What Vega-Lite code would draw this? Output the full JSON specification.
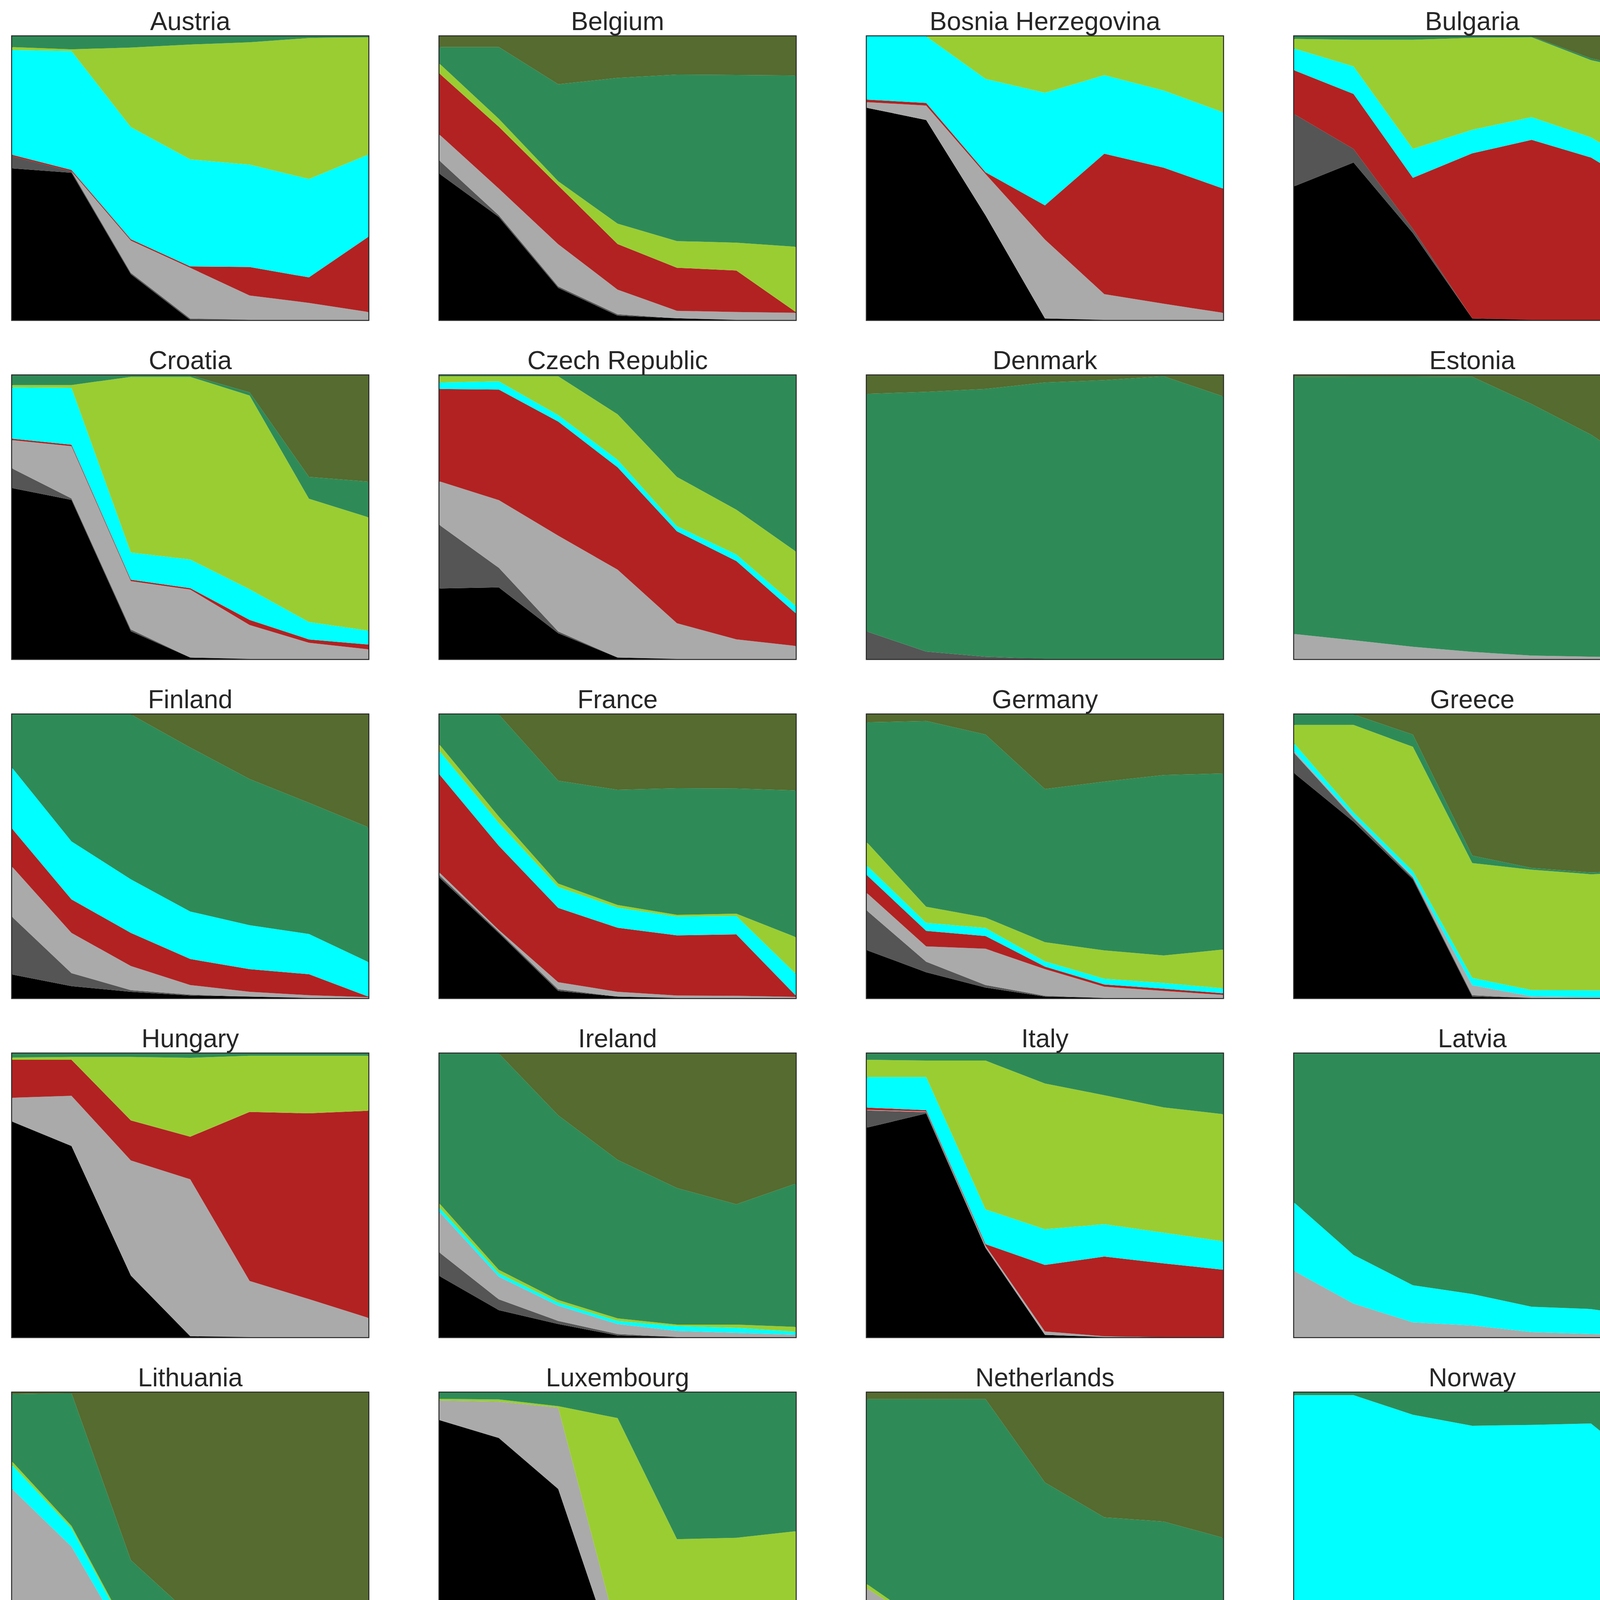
{
  "$schema": "https://vega.github.io/schema/vega-lite/v6.json",
  "padding": {"left": 28, "top": 21, "right": 10, "bottom": 10},
  "background": "white",
  "datasets": {
    "techs": [
      {"key": "lignite", "tech": "lignite", "o": 0},
      {"key": "coal", "tech": "coal", "o": 1},
      {"key": "gas", "tech": "gas", "o": 2},
      {"key": "nuclear", "tech": "nuclear", "o": 3},
      {"key": "hydro", "tech": "hydro", "o": 4},
      {"key": "solar", "tech": "solar PV", "o": 5},
      {"key": "onshore", "tech": "onshore wind", "o": 6},
      {"key": "offshore", "tech": "offshore wind", "o": 7}
    ],
    "mix": [
      {"country":"Austria","year":2020,"lignite":53.5,"coal":4.3,"gas":0,"nuclear":0.5,"hydro":37,"solar":1,"onshore":3.8,"offshore":0},
      {"country":"Austria","year":2025,"lignite":52,"coal":0.5,"gas":0,"nuclear":0.5,"hydro":42,"solar":0.6,"onshore":4.6,"offshore":0},
      {"country":"Austria","year":2030,"lignite":16.3,"coal":0.5,"gas":11.5,"nuclear":0.5,"hydro":40,"solar":28.4,"onshore":4,"offshore":0},
      {"country":"Austria","year":2035,"lignite":0,"coal":0.5,"gas":18,"nuclear":0.5,"hydro":38,"solar":40.8,"onshore":2.9,"offshore":0},
      {"country":"Austria","year":2040,"lignite":0,"coal":0,"gas":8.6,"nuclear":10,"hydro":36,"solar":43,"onshore":2.1,"offshore":0},
      {"country":"Austria","year":2045,"lignite":0,"coal":0,"gas":6,"nuclear":9,"hydro":34.7,"solar":49.7,"onshore":0.6,"offshore":0},
      {"country":"Austria","year":2050,"lignite":0,"coal":0,"gas":2.8,"nuclear":26.5,"hydro":29,"solar":41.4,"onshore":0.3,"offshore":0},
      {"country":"Belgium","year":2020,"lignite":51.5,"coal":4.6,"gas":9.2,"nuclear":21.5,"hydro":0,"solar":3.5,"onshore":5.8,"offshore":3.8},
      {"country":"Belgium","year":2025,"lignite":36.3,"coal":0.6,"gas":9.4,"nuclear":21.8,"hydro":0,"solar":2.8,"onshore":25.3,"offshore":3.8},
      {"country":"Belgium","year":2030,"lignite":11.3,"coal":0.5,"gas":14.9,"nuclear":20.7,"hydro":0,"solar":1.5,"onshore":34.2,"offshore":16.9},
      {"country":"Belgium","year":2035,"lignite":1.5,"coal":0.5,"gas":8.7,"nuclear":16.1,"hydro":0,"solar":7.2,"onshore":51.4,"offshore":14.7},
      {"country":"Belgium","year":2040,"lignite":0.6,"coal":0,"gas":2.6,"nuclear":15.2,"hydro":0,"solar":9.4,"onshore":58.7,"offshore":13.5},
      {"country":"Belgium","year":2045,"lignite":0,"coal":0,"gas":2.8,"nuclear":14.6,"hydro":0,"solar":9.8,"onshore":59,"offshore":13.6},
      {"country":"Belgium","year":2050,"lignite":0,"coal":0,"gas":2.5,"nuclear":0.3,"hydro":0,"solar":23,"onshore":60.4,"offshore":13.8},
      {"country":"Bosnia Herzegovina","year":2020,"lignite":74.8,"coal":0,"gas":2,"nuclear":0.9,"hydro":22.3,"solar":0,"onshore":0,"offshore":0},
      {"country":"Bosnia Herzegovina","year":2025,"lignite":70.5,"coal":0,"gas":5.1,"nuclear":0.9,"hydro":23.5,"solar":0,"onshore":0,"offshore":0},
      {"country":"Bosnia Herzegovina","year":2030,"lignite":36.8,"coal":0,"gas":14.6,"nuclear":0.6,"hydro":32.9,"solar":15,"onshore":0,"offshore":0},
      {"country":"Bosnia Herzegovina","year":2035,"lignite":0.5,"coal":0,"gas":27.7,"nuclear":12,"hydro":39.5,"solar":19.8,"onshore":0,"offshore":0},
      {"country":"Bosnia Herzegovina","year":2040,"lignite":0,"coal":0,"gas":9.1,"nuclear":49.5,"hydro":27.7,"solar":13.7,"onshore":0,"offshore":0},
      {"country":"Bosnia Herzegovina","year":2045,"lignite":0,"coal":0,"gas":5.7,"nuclear":48,"hydro":27.2,"solar":19.1,"onshore":0,"offshore":0},
      {"country":"Bosnia Herzegovina","year":2050,"lignite":0,"coal":0,"gas":2.5,"nuclear":43.8,"hydro":26.9,"solar":26.8,"onshore":0,"offshore":0},
      {"country":"Bulgaria","year":2020,"lignite":47.1,"coal":25.5,"gas":0,"nuclear":15.4,"hydro":7.7,"solar":3.4,"onshore":0.9,"offshore":0},
      {"country":"Bulgaria","year":2025,"lignite":55.5,"coal":4.8,"gas":0,"nuclear":19.4,"hydro":9.7,"solar":9.4,"onshore":1.2,"offshore":0},
      {"country":"Bulgaria","year":2030,"lignite":30.6,"coal":1.5,"gas":0,"nuclear":18,"hydro":10.2,"solar":38.5,"onshore":1.2,"offshore":0},
      {"country":"Bulgaria","year":2035,"lignite":0.5,"coal":0,"gas":0,"nuclear":58.3,"hydro":8.3,"solar":32.5,"onshore":0.5,"offshore":0},
      {"country":"Bulgaria","year":2040,"lignite":0,"coal":0,"gas":0,"nuclear":63.5,"hydro":8,"solar":28.2,"onshore":0.3,"offshore":0},
      {"country":"Bulgaria","year":2045,"lignite":0,"coal":0,"gas":0,"nuclear":57.2,"hydro":7.1,"solar":27.2,"onshore":0.6,"offshore":7.8},
      {"country":"Bulgaria","year":2050,"lignite":0,"coal":0,"gas":0,"nuclear":44.5,"hydro":7.4,"solar":35.2,"onshore":0.6,"offshore":12.3},
      {"country":"Croatia","year":2020,"lignite":60.2,"coal":6.9,"gas":10,"nuclear":0.5,"hydro":18.1,"solar":0.8,"onshore":3.4,"offshore":0},
      {"country":"Croatia","year":2025,"lignite":56,"coal":0.5,"gas":18.4,"nuclear":0.5,"hydro":20,"solar":1,"onshore":3.4,"offshore":0},
      {"country":"Croatia","year":2030,"lignite":9.7,"coal":0.6,"gas":16.9,"nuclear":0.5,"hydro":9.5,"solar":61.4,"onshore":0.5,"offshore":0},
      {"country":"Croatia","year":2035,"lignite":0.5,"coal":0,"gas":23.8,"nuclear":0.5,"hydro":10,"solar":64,"onshore":0.5,"offshore":0},
      {"country":"Croatia","year":2040,"lignite":0,"coal":0,"gas":12,"nuclear":1.8,"hydro":10.8,"solar":68.4,"onshore":1.1,"offshore":6},
      {"country":"Croatia","year":2045,"lignite":0,"coal":0,"gas":5.7,"nuclear":1.2,"hydro":6.1,"solar":43.5,"onshore":7.7,"offshore":35.8},
      {"country":"Croatia","year":2050,"lignite":0,"coal":0,"gas":3.4,"nuclear":1.7,"hydro":4.9,"solar":40,"onshore":12.6,"offshore":37.5},
      {"country":"Czech Republic","year":2020,"lignite":24.9,"coal":22.4,"gas":15.4,"nuclear":32.6,"hydro":2.3,"solar":2.2,"onshore":0.3,"offshore":0},
      {"country":"Czech Republic","year":2025,"lignite":25.2,"coal":6.9,"gas":23.8,"nuclear":38.9,"hydro":2.9,"solar":1.8,"onshore":0.3,"offshore":0},
      {"country":"Czech Republic","year":2030,"lignite":9.1,"coal":0.6,"gas":33.8,"nuclear":40.2,"hydro":2.3,"solar":13.7,"onshore":0.3,"offshore":0},
      {"country":"Czech Republic","year":2035,"lignite":0.5,"coal":0,"gas":31,"nuclear":36.1,"hydro":2.6,"solar":16.1,"onshore":13.7,"offshore":0},
      {"country":"Czech Republic","year":2040,"lignite":0,"coal":0,"gas":12.6,"nuclear":32.4,"hydro":1.8,"solar":17.4,"onshore":35.8,"offshore":0},
      {"country":"Czech Republic","year":2045,"lignite":0,"coal":0,"gas":6.9,"nuclear":27.6,"hydro":2.3,"solar":15.8,"onshore":47.3,"offshore":0},
      {"country":"Czech Republic","year":2050,"lignite":0,"coal":0,"gas":4.6,"nuclear":11.5,"hydro":2.6,"solar":19.2,"onshore":62,"offshore":0},
      {"country":"Denmark","year":2020,"lignite":0,"coal":9.7,"gas":0,"nuclear":0,"hydro":0,"solar":0,"onshore":83.6,"offshore":6.5},
      {"country":"Denmark","year":2025,"lignite":0,"coal":2.6,"gas":0,"nuclear":0,"hydro":0,"solar":0,"onshore":91.5,"offshore":5.8},
      {"country":"Denmark","year":2030,"lignite":0,"coal":0.8,"gas":0,"nuclear":0,"hydro":0,"solar":0,"onshore":94.5,"offshore":4.8},
      {"country":"Denmark","year":2035,"lignite":0,"coal":0,"gas":0,"nuclear":0,"hydro":0,"solar":0,"onshore":97.5,"offshore":2.5},
      {"country":"Denmark","year":2040,"lignite":0,"coal":0,"gas":0,"nuclear":0,"hydro":0,"solar":0,"onshore":98.3,"offshore":1.7},
      {"country":"Denmark","year":2045,"lignite":0,"coal":0,"gas":0,"nuclear":0,"hydro":0,"solar":0,"onshore":99.7,"offshore":0.3},
      {"country":"Denmark","year":2050,"lignite":0,"coal":0,"gas":0,"nuclear":0,"hydro":0,"solar":0,"onshore":92.6,"offshore":7.4},
      {"country":"Estonia","year":2020,"lignite":0,"coal":0,"gas":8.8,"nuclear":0,"hydro":0,"solar":0,"onshore":90.6,"offshore":0.5},
      {"country":"Estonia","year":2025,"lignite":0,"coal":0,"gas":6.6,"nuclear":0,"hydro":0,"solar":0,"onshore":93,"offshore":0.4},
      {"country":"Estonia","year":2030,"lignite":0,"coal":0,"gas":4.3,"nuclear":0,"hydro":0,"solar":0,"onshore":95.2,"offshore":0.4},
      {"country":"Estonia","year":2035,"lignite":0,"coal":0,"gas":2.5,"nuclear":0,"hydro":0,"solar":0,"onshore":97,"offshore":0.5},
      {"country":"Estonia","year":2040,"lignite":0,"coal":0,"gas":1.2,"nuclear":0,"hydro":0,"solar":0,"onshore":88.6,"offshore":10.1},
      {"country":"Estonia","year":2045,"lignite":0,"coal":0,"gas":0.8,"nuclear":0,"hydro":0,"solar":0,"onshore":78.3,"offshore":20.9},
      {"country":"Estonia","year":2050,"lignite":0,"coal":0,"gas":0.5,"nuclear":0,"hydro":0,"solar":0,"onshore":64.8,"offshore":34.7},
      {"country":"Finland","year":2020,"lignite":8.3,"coal":20.3,"gas":17.7,"nuclear":13.4,"hydro":21.5,"solar":0,"onshore":18.8,"offshore":0},
      {"country":"Finland","year":2025,"lignite":4.2,"coal":4.6,"gas":14.2,"nuclear":11.8,"hydro":20.5,"solar":0,"onshore":44.8,"offshore":0},
      {"country":"Finland","year":2030,"lignite":2.2,"coal":0.6,"gas":8.5,"nuclear":11.7,"hydro":18.9,"solar":0,"onshore":58.2,"offshore":0},
      {"country":"Finland","year":2035,"lignite":0.9,"coal":0.3,"gas":3.4,"nuclear":9.2,"hydro":16.8,"solar":0,"onshore":58,"offshore":11.7},
      {"country":"Finland","year":2040,"lignite":0.5,"coal":0,"gas":1.7,"nuclear":8,"hydro":15.5,"solar":0,"onshore":51.5,"offshore":22.8},
      {"country":"Finland","year":2045,"lignite":0,"coal":0,"gas":1,"nuclear":7.4,"hydro":14.2,"solar":0,"onshore":46.3,"offshore":31.2},
      {"country":"Finland","year":2050,"lignite":0,"coal":0,"gas":0.3,"nuclear":0.2,"hydro":12.2,"solar":0,"onshore":47.5,"offshore":39.8},
      {"country":"France","year":2020,"lignite":42.5,"coal":0.8,"gas":1,"nuclear":34.6,"hydro":8.3,"solar":2.3,"onshore":10.6,"offshore":0},
      {"country":"France","year":2025,"lignite":22.9,"coal":0.5,"gas":0.6,"nuclear":29.7,"hydro":8,"solar":2.3,"onshore":36,"offshore":0},
      {"country":"France","year":2030,"lignite":2.5,"coal":0.6,"gas":2.5,"nuclear":26.2,"hydro":7.4,"solar":1.2,"onshore":36.3,"offshore":23.4},
      {"country":"France","year":2035,"lignite":0.5,"coal":0,"gas":1.7,"nuclear":22.6,"hydro":7.1,"solar":0.9,"onshore":40.6,"offshore":26.6},
      {"country":"France","year":2040,"lignite":0,"coal":0,"gas":0.9,"nuclear":21.2,"hydro":6.6,"solar":0.6,"onshore":44.6,"offshore":26},
      {"country":"France","year":2045,"lignite":0,"coal":0,"gas":0.8,"nuclear":21.7,"hydro":6.5,"solar":0.8,"onshore":44.2,"offshore":26.2},
      {"country":"France","year":2050,"lignite":0,"coal":0,"gas":0.4,"nuclear":0.5,"hydro":7.7,"solar":12.9,"onshore":51.7,"offshore":26.8},
      {"country":"Germany","year":2020,"lignite":16.9,"coal":14,"gas":6.2,"nuclear":6.3,"hydro":3.4,"solar":8.2,"onshore":42.3,"offshore":2.8},
      {"country":"Germany","year":2025,"lignite":9.1,"coal":3.7,"gas":5.4,"nuclear":5.5,"hydro":2.8,"solar":5.7,"onshore":65.5,"offshore":2.3},
      {"country":"Germany","year":2030,"lignite":3.7,"coal":0.9,"gas":12.8,"nuclear":4.5,"hydro":2.8,"solar":3.7,"onshore":64.6,"offshore":7.1},
      {"country":"Germany","year":2035,"lignite":0.5,"coal":0.3,"gas":9.4,"nuclear":0.9,"hydro":1.8,"solar":6.8,"onshore":54,"offshore":26.3},
      {"country":"Germany","year":2040,"lignite":0,"coal":0,"gas":4,"nuclear":0.8,"hydro":2,"solar":10,"onshore":59.5,"offshore":23.7},
      {"country":"Germany","year":2045,"lignite":0,"coal":0,"gas":2.5,"nuclear":0.8,"hydro":2,"solar":9.7,"onshore":63.6,"offshore":21.4},
      {"country":"Germany","year":2050,"lignite":0,"coal":0,"gas":1.1,"nuclear":0.6,"hydro":1.7,"solar":13.7,"onshore":62.1,"offshore":20.8},
      {"country":"Greece","year":2020,"lignite":79.4,"coal":7.1,"gas":0.6,"nuclear":0,"hydro":2.8,"solar":6.5,"onshore":3.7,"offshore":0},
      {"country":"Greece","year":2025,"lignite":62.2,"coal":1.2,"gas":0.6,"nuclear":0,"hydro":1.5,"solar":30.8,"onshore":3.7,"offshore":0},
      {"country":"Greece","year":2030,"lignite":41.8,"coal":0.6,"gas":0.5,"nuclear":0,"hydro":1.8,"solar":43.8,"onshore":4.3,"offshore":7.1},
      {"country":"Greece","year":2035,"lignite":0.5,"coal":0.5,"gas":3.5,"nuclear":0,"hydro":2.6,"solar":40.5,"onshore":2.6,"offshore":49.8},
      {"country":"Greece","year":2040,"lignite":0,"coal":0,"gas":0.6,"nuclear":0,"hydro":2.2,"solar":42.5,"onshore":0.6,"offshore":54.2},
      {"country":"Greece","year":2045,"lignite":0,"coal":0,"gas":0.3,"nuclear":0,"hydro":2.4,"solar":40.9,"onshore":0.6,"offshore":55.7},
      {"country":"Greece","year":2050,"lignite":0,"coal":0,"gas":0.3,"nuclear":0,"hydro":2.2,"solar":42,"onshore":0.8,"offshore":54.8},
      {"country":"Hungary","year":2020,"lignite":76,"coal":0,"gas":8.4,"nuclear":13.4,"hydro":0,"solar":0.8,"onshore":1.4,"offshore":0},
      {"country":"Hungary","year":2025,"lignite":67.4,"coal":0,"gas":17.7,"nuclear":12.7,"hydro":0,"solar":1,"onshore":1.2,"offshore":0},
      {"country":"Hungary","year":2030,"lignite":21.7,"coal":0,"gas":40.6,"nuclear":14.1,"hydro":0,"solar":22.4,"onshore":1.2,"offshore":0},
      {"country":"Hungary","year":2035,"lignite":0.3,"coal":0,"gas":55.3,"nuclear":15,"hydro":0,"solar":27.8,"onshore":1.5,"offshore":0},
      {"country":"Hungary","year":2040,"lignite":0,"coal":0,"gas":19.8,"nuclear":59.6,"hydro":0,"solar":19.8,"onshore":0.8,"offshore":0},
      {"country":"Hungary","year":2045,"lignite":0,"coal":0,"gas":13.4,"nuclear":65.6,"hydro":0,"solar":20.3,"onshore":0.8,"offshore":0},
      {"country":"Hungary","year":2050,"lignite":0,"coal":0,"gas":6.8,"nuclear":73.1,"hydro":0,"solar":19.4,"onshore":0.8,"offshore":0},
      {"country":"Ireland","year":2020,"lignite":21.5,"coal":8.3,"gas":14.3,"nuclear":0,"hydro":1.5,"solar":1.5,"onshore":52.8,"offshore":0},
      {"country":"Ireland","year":2025,"lignite":9.5,"coal":3.8,"gas":8,"nuclear":0,"hydro":1.2,"solar":1.2,"onshore":76.2,"offshore":0},
      {"country":"Ireland","year":2030,"lignite":4.6,"coal":1.1,"gas":5.4,"nuclear":0,"hydro":1.1,"solar":0.9,"onshore":65.1,"offshore":21.8},
      {"country":"Ireland","year":2035,"lignite":0.6,"coal":0.5,"gas":3.5,"nuclear":0,"hydro":1.1,"solar":0.9,"onshore":55.9,"offshore":37.5},
      {"country":"Ireland","year":2040,"lignite":0,"coal":0,"gas":2.2,"nuclear":0,"hydro":1.7,"solar":0.5,"onshore":48.2,"offshore":47.5},
      {"country":"Ireland","year":2045,"lignite":0,"coal":0,"gas":1.5,"nuclear":0,"hydro":1.8,"solar":1.1,"onshore":42.4,"offshore":53.1},
      {"country":"Ireland","year":2050,"lignite":0,"coal":0,"gas":0.8,"nuclear":0,"hydro":1.1,"solar":1.7,"onshore":50.5,"offshore":45.9},
      {"country":"Italy","year":2020,"lignite":74,"coal":6.1,"gas":0.2,"nuclear":0.8,"hydro":10.8,"solar":6.1,"onshore":2.2,"offshore":0},
      {"country":"Italy","year":2025,"lignite":79,"coal":0.5,"gas":0.2,"nuclear":0.5,"hydro":11.7,"solar":5.8,"onshore":2.5,"offshore":0},
      {"country":"Italy","year":2030,"lignite":31.5,"coal":0.3,"gas":0.6,"nuclear":0.5,"hydro":12.3,"solar":52.7,"onshore":2.5,"offshore":0},
      {"country":"Italy","year":2035,"lignite":0.8,"coal":0,"gas":1.2,"nuclear":23.5,"hydro":12.6,"solar":51.5,"onshore":10.6,"offshore":0},
      {"country":"Italy","year":2040,"lignite":0,"coal":0,"gas":0.3,"nuclear":28.1,"hydro":11.4,"solar":45.5,"onshore":14.7,"offshore":0},
      {"country":"Italy","year":2045,"lignite":0,"coal":0,"gas":0,"nuclear":26,"hydro":10.8,"solar":44.2,"onshore":19,"offshore":0},
      {"country":"Italy","year":2050,"lignite":0,"coal":0,"gas":0,"nuclear":23.8,"hydro":10,"solar":44.9,"onshore":21.4,"offshore":0},
      {"country":"Latvia","year":2020,"lignite":0,"coal":0,"gas":23.3,"nuclear":0,"hydro":24.1,"solar":0,"onshore":52.5,"offshore":0},
      {"country":"Latvia","year":2025,"lignite":0,"coal":0,"gas":11.8,"nuclear":0,"hydro":17.2,"solar":0,"onshore":71,"offshore":0},
      {"country":"Latvia","year":2030,"lignite":0,"coal":0,"gas":5.2,"nuclear":0,"hydro":13.1,"solar":0,"onshore":81.7,"offshore":0},
      {"country":"Latvia","year":2035,"lignite":0,"coal":0,"gas":4.1,"nuclear":0,"hydro":11.1,"solar":0,"onshore":84.8,"offshore":0},
      {"country":"Latvia","year":2040,"lignite":0,"coal":0,"gas":1.8,"nuclear":0,"hydro":8.9,"solar":0,"onshore":89.3,"offshore":0},
      {"country":"Latvia","year":2045,"lignite":0,"coal":0,"gas":1.1,"nuclear":0,"hydro":8.8,"solar":0,"onshore":90.1,"offshore":0},
      {"country":"Latvia","year":2050,"lignite":0,"coal":0,"gas":0.6,"nuclear":0,"hydro":6.3,"solar":0,"onshore":93.1,"offshore":0},
      {"country":"Lithuania","year":2020,"lignite":0,"coal":0,"gas":66,"nuclear":0,"hydro":8.5,"solar":1.2,"onshore":23.7,"offshore":0.6},
      {"country":"Lithuania","year":2025,"lignite":0,"coal":0,"gas":45.7,"nuclear":0,"hydro":6.5,"solar":0.8,"onshore":46.8,"offshore":0.2},
      {"country":"Lithuania","year":2030,"lignite":0,"coal":0,"gas":9.8,"nuclear":0,"hydro":3.4,"solar":0.9,"onshore":26.8,"offshore":59.1},
      {"country":"Lithuania","year":2035,"lignite":0,"coal":0,"gas":4,"nuclear":0,"hydro":1.7,"solar":0.6,"onshore":15.5,"offshore":78.2},
      {"country":"Lithuania","year":2040,"lignite":0,"coal":0,"gas":1.8,"nuclear":0,"hydro":1.2,"solar":0.5,"onshore":12,"offshore":84.5},
      {"country":"Lithuania","year":2045,"lignite":0,"coal":0,"gas":1.5,"nuclear":0,"hydro":1.1,"solar":0.5,"onshore":12.2,"offshore":84.7},
      {"country":"Lithuania","year":2050,"lignite":0,"coal":0,"gas":1.2,"nuclear":0,"hydro":1,"solar":0.6,"onshore":16.8,"offshore":80.4},
      {"country":"Luxembourg","year":2020,"lignite":90.3,"coal":0,"gas":6.9,"nuclear":0,"hydro":0,"solar":0.6,"onshore":2.2,"offshore":0},
      {"country":"Luxembourg","year":2025,"lignite":84,"coal":0,"gas":12.8,"nuclear":0,"hydro":0,"solar":0.8,"onshore":2.4,"offshore":0},
      {"country":"Luxembourg","year":2030,"lignite":66,"coal":0,"gas":28.7,"nuclear":0,"hydro":0,"solar":0.5,"onshore":4.8,"offshore":0},
      {"country":"Luxembourg","year":2035,"lignite":4.2,"coal":0,"gas":10.8,"nuclear":0,"hydro":0,"solar":76,"onshore":9,"offshore":0},
      {"country":"Luxembourg","year":2040,"lignite":0.8,"coal":0,"gas":2.9,"nuclear":0,"hydro":0,"solar":44.6,"onshore":51.7,"offshore":0},
      {"country":"Luxembourg","year":2045,"lignite":0.5,"coal":0,"gas":2,"nuclear":0,"hydro":0,"solar":46.3,"onshore":51.2,"offshore":0},
      {"country":"Luxembourg","year":2050,"lignite":0.3,"coal":0,"gas":1.4,"nuclear":0,"hydro":0,"solar":49.4,"onshore":48.9,"offshore":0},
      {"country":"Netherlands","year":2020,"lignite":4.8,"coal":19.4,"gas":6.8,"nuclear":0,"hydro":0,"solar":1.5,"onshore":65.2,"offshore":2.3},
      {"country":"Netherlands","year":2025,"lignite":3.7,"coal":8.9,"gas":4.9,"nuclear":0,"hydro":0,"solar":0.5,"onshore":79.7,"offshore":2.3},
      {"country":"Netherlands","year":2030,"lignite":2.6,"coal":0.5,"gas":12.6,"nuclear":0,"hydro":0,"solar":0.8,"onshore":81.2,"offshore":2.3},
      {"country":"Netherlands","year":2035,"lignite":0.5,"coal":0,"gas":6.2,"nuclear":0,"hydro":0,"solar":4.3,"onshore":57.3,"offshore":31.7},
      {"country":"Netherlands","year":2040,"lignite":0,"coal":0,"gas":1.8,"nuclear":0,"hydro":0,"solar":5.1,"onshore":49.1,"offshore":44},
      {"country":"Netherlands","year":2045,"lignite":0,"coal":0,"gas":1.2,"nuclear":0,"hydro":0,"solar":5.4,"onshore":47.9,"offshore":45.5},
      {"country":"Netherlands","year":2050,"lignite":0,"coal":0,"gas":0.8,"nuclear":0,"hydro":0,"solar":6.6,"onshore":41.4,"offshore":51.2},
      {"country":"Norway","year":2020,"lignite":0,"coal":0,"gas":0,"nuclear":0,"hydro":99.1,"solar":0,"onshore":0.9,"offshore":0},
      {"country":"Norway","year":2025,"lignite":0,"coal":0,"gas":0,"nuclear":0,"hydro":99.1,"solar":0,"onshore":0.9,"offshore":0},
      {"country":"Norway","year":2030,"lignite":0,"coal":0,"gas":0,"nuclear":0,"hydro":92.2,"solar":0,"onshore":7.8,"offshore":0},
      {"country":"Norway","year":2035,"lignite":0,"coal":0,"gas":0,"nuclear":0,"hydro":88.3,"solar":0,"onshore":11.7,"offshore":0},
      {"country":"Norway","year":2040,"lignite":0,"coal":0,"gas":0,"nuclear":0,"hydro":88.6,"solar":0,"onshore":11.4,"offshore":0},
      {"country":"Norway","year":2045,"lignite":0,"coal":0,"gas":0,"nuclear":0,"hydro":89.1,"solar":0,"onshore":10.9,"offshore":0},
      {"country":"Norway","year":2050,"lignite":0,"coal":0,"gas":0,"nuclear":0,"hydro":72.2,"solar":0,"onshore":27.8,"offshore":0},
      {"country":"Poland","year":2020,"lignite":23.7,"coal":43,"gas":25,"nuclear":0,"hydro":0.4,"solar":0.6,"onshore":6.9,"offshore":0.4},
      {"country":"Poland","year":2025,"lignite":18.4,"coal":12.1,"gas":27.3,"nuclear":0,"hydro":0.4,"solar":0.8,"onshore":32.4,"offshore":8.6},
      {"country":"Poland","year":2030,"lignite":6.5,"coal":0.8,"gas":16.9,"nuclear":0,"hydro":0.3,"solar":0.6,"onshore":45.9,"offshore":29},
      {"country":"Poland","year":2035,"lignite":0.6,"coal":0.5,"gas":8.9,"nuclear":0,"hydro":0.6,"solar":0.5,"onshore":67.1,"offshore":21.8},
      {"country":"Poland","year":2040,"lignite":0,"coal":0,"gas":3.7,"nuclear":0,"hydro":0.6,"solar":1.7,"onshore":75.7,"offshore":18.3},
      {"country":"Poland","year":2045,"lignite":0,"coal":0,"gas":2.2,"nuclear":0,"hydro":0.8,"solar":1.5,"onshore":78,"offshore":17.5},
      {"country":"Poland","year":2050,"lignite":0,"coal":0,"gas":1.5,"nuclear":0,"hydro":0.9,"solar":1,"onshore":80.3,"offshore":16.3},
      {"country":"Portugal","year":2020,"lignite":40.2,"coal":11.8,"gas":0.5,"nuclear":0,"hydro":29.2,"solar":2,"onshore":16.3,"offshore":0},
      {"country":"Portugal","year":2025,"lignite":28,"coal":0.5,"gas":0.4,"nuclear":0,"hydro":29.6,"solar":24.5,"onshore":17,"offshore":0},
      {"country":"Portugal","year":2030,"lignite":15.2,"coal":0.8,"gas":0.5,"nuclear":0,"hydro":26.6,"solar":41.4,"onshore":15.5,"offshore":0},
      {"country":"Portugal","year":2035,"lignite":0.3,"coal":0.3,"gas":5.1,"nuclear":0,"hydro":21.5,"solar":31.1,"onshore":11.4,"offshore":30.3},
      {"country":"Portugal","year":2040,"lignite":0,"coal":0,"gas":0.3,"nuclear":0,"hydro":23.8,"solar":35.3,"onshore":4.3,"offshore":36.3},
      {"country":"Portugal","year":2045,"lignite":0,"coal":0,"gas":0,"nuclear":0,"hydro":24.1,"solar":39.2,"onshore":0.9,"offshore":35.8},
      {"country":"Portugal","year":2050,"lignite":0,"coal":0,"gas":0,"nuclear":0,"hydro":24.1,"solar":39.7,"onshore":0.9,"offshore":35.3},
      {"country":"Romania","year":2020,"lignite":44.9,"coal":7.4,"gas":14.4,"nuclear":6.3,"hydro":19.8,"solar":2.5,"onshore":4.5,"offshore":0.2},
      {"country":"Romania","year":2025,"lignite":44.4,"coal":0.9,"gas":20.3,"nuclear":6.6,"hydro":20.6,"solar":2.3,"onshore":4.6,"offshore":0.3},
      {"country":"Romania","year":2030,"lignite":10.3,"coal":0.8,"gas":23,"nuclear":5.7,"hydro":17.4,"solar":8.8,"onshore":5.1,"offshore":28.9},
      {"country":"Romania","year":2035,"lignite":0.3,"coal":0,"gas":21,"nuclear":3.5,"hydro":17.4,"solar":7.7,"onshore":3.4,"offshore":46.7},
      {"country":"Romania","year":2040,"lignite":0,"coal":0,"gas":11.1,"nuclear":5.1,"hydro":17.7,"solar":10,"onshore":3.1,"offshore":53},
      {"country":"Romania","year":2045,"lignite":0,"coal":0,"gas":7.2,"nuclear":9.5,"hydro":17.2,"solar":13.7,"onshore":1.1,"offshore":51.3},
      {"country":"Romania","year":2050,"lignite":0,"coal":0,"gas":3.1,"nuclear":16.7,"hydro":16.1,"solar":14.7,"onshore":1.1,"offshore":48.3},
      {"country":"Serbia","year":2020,"lignite":77.4,"coal":0,"gas":7.8,"nuclear":0.8,"hydro":14,"solar":0,"onshore":0,"offshore":0},
      {"country":"Serbia","year":2025,"lignite":75.6,"coal":0,"gas":9.5,"nuclear":0.8,"hydro":14.1,"solar":0,"onshore":0,"offshore":0},
      {"country":"Serbia","year":2030,"lignite":32.9,"coal":0,"gas":18.9,"nuclear":0.5,"hydro":18,"solar":29.7,"onshore":0,"offshore":0},
      {"country":"Serbia","year":2035,"lignite":0.3,"coal":0,"gas":24.6,"nuclear":25,"hydro":18.4,"solar":31.7,"onshore":0,"offshore":0},
      {"country":"Serbia","year":2040,"lignite":0,"coal":0,"gas":10.6,"nuclear":48.8,"hydro":15.4,"solar":25.2,"onshore":0,"offshore":0},
      {"country":"Serbia","year":2045,"lignite":0,"coal":0,"gas":6.9,"nuclear":51.5,"hydro":15.4,"solar":26.2,"onshore":0,"offshore":0},
      {"country":"Serbia","year":2050,"lignite":0,"coal":0,"gas":3.1,"nuclear":56.1,"hydro":15.2,"solar":25.6,"onshore":0,"offshore":0},
      {"country":"Slovakia","year":2020,"lignite":0,"coal":8,"gas":39.2,"nuclear":31.7,"hydro":17.9,"solar":3.2,"onshore":0,"offshore":0},
      {"country":"Slovakia","year":2025,"lignite":0,"coal":2.7,"gas":45.1,"nuclear":31.7,"hydro":18.1,"solar":2.4,"onshore":0,"offshore":0},
      {"country":"Slovakia","year":2030,"lignite":0,"coal":0.5,"gas":36.2,"nuclear":22.1,"hydro":12.5,"solar":28.7,"onshore":0,"offshore":0},
      {"country":"Slovakia","year":2035,"lignite":0,"coal":0,"gas":37,"nuclear":11.2,"hydro":13.1,"solar":38.7,"onshore":0,"offshore":0},
      {"country":"Slovakia","year":2040,"lignite":0,"coal":0,"gas":15.7,"nuclear":42.4,"hydro":10.6,"solar":31.3,"onshore":0,"offshore":0},
      {"country":"Slovakia","year":2045,"lignite":0,"coal":0,"gas":9.6,"nuclear":52,"hydro":10.2,"solar":28.2,"onshore":0,"offshore":0},
      {"country":"Slovakia","year":2050,"lignite":0,"coal":0,"gas":3.2,"nuclear":64,"hydro":8.5,"solar":24.3,"onshore":0,"offshore":0},
      {"country":"Slovenia","year":2020,"lignite":69.9,"coal":0,"gas":1.6,"nuclear":14.1,"hydro":13.1,"solar":1.3,"onshore":0,"offshore":0},
      {"country":"Slovenia","year":2025,"lignite":66.4,"coal":0,"gas":3.5,"nuclear":15.2,"hydro":14.1,"solar":0.8,"onshore":0,"offshore":0},
      {"country":"Slovenia","year":2030,"lignite":37.6,"coal":0,"gas":18.4,"nuclear":22.4,"hydro":20.8,"solar":0.8,"onshore":0,"offshore":0},
      {"country":"Slovenia","year":2035,"lignite":1,"coal":0,"gas":24.2,"nuclear":53.9,"hydro":20.3,"solar":0.6,"onshore":0,"offshore":0},
      {"country":"Slovenia","year":2040,"lignite":0,"coal":0,"gas":9.9,"nuclear":74.4,"hydro":15.7,"solar":0,"onshore":0,"offshore":0},
      {"country":"Slovenia","year":2045,"lignite":0,"coal":0,"gas":6.9,"nuclear":73.9,"hydro":16,"solar":3.2,"onshore":0,"offshore":0},
      {"country":"Slovenia","year":2050,"lignite":0,"coal":0,"gas":2.7,"nuclear":70.9,"hydro":15.7,"solar":10.7,"onshore":0,"offshore":0},
      {"country":"Spain","year":2020,"lignite":70.8,"coal":1.5,"gas":1.2,"nuclear":7.3,"hydro":8.5,"solar":2.3,"onshore":8.4,"offshore":0},
      {"country":"Spain","year":2025,"lignite":51.1,"coal":0.5,"gas":0.5,"nuclear":6.4,"hydro":8.1,"solar":25.1,"onshore":8.3,"offshore":0},
      {"country":"Spain","year":2030,"lignite":19.8,"coal":0.5,"gas":0.6,"nuclear":2.7,"hydro":9.3,"solar":39.2,"onshore":9.5,"offshore":18.4},
      {"country":"Spain","year":2035,"lignite":0,"coal":0,"gas":10.3,"nuclear":0.8,"hydro":8.9,"solar":41.3,"onshore":21,"offshore":17.7},
      {"country":"Spain","year":2040,"lignite":0,"coal":0,"gas":0,"nuclear":0.5,"hydro":7.7,"solar":45.6,"onshore":30.1,"offshore":16.1},
      {"country":"Spain","year":2045,"lignite":0,"coal":0,"gas":0,"nuclear":0,"hydro":7.7,"solar":46.8,"onshore":30.4,"offshore":15.1},
      {"country":"Spain","year":2050,"lignite":0,"coal":0,"gas":0,"nuclear":0,"hydro":7.5,"solar":47.9,"onshore":30.9,"offshore":13.7},
      {"country":"Sweden","year":2020,"lignite":0,"coal":0,"gas":0,"nuclear":17.1,"hydro":42.5,"solar":0,"onshore":39.6,"offshore":0.8},
      {"country":"Sweden","year":2025,"lignite":0,"coal":0,"gas":0,"nuclear":17,"hydro":42.6,"solar":0,"onshore":40.2,"offshore":0.2},
      {"country":"Sweden","year":2030,"lignite":0,"coal":0,"gas":0,"nuclear":15.4,"hydro":40.2,"solar":0,"onshore":44.4,"offshore":0},
      {"country":"Sweden","year":2035,"lignite":0,"coal":0,"gas":0,"nuclear":15.4,"hydro":40.9,"solar":0,"onshore":43.7,"offshore":0},
      {"country":"Sweden","year":2040,"lignite":0,"coal":0,"gas":0,"nuclear":15.6,"hydro":41.7,"solar":0,"onshore":42.7,"offshore":0},
      {"country":"Sweden","year":2045,"lignite":0,"coal":0,"gas":0,"nuclear":16.4,"hydro":43.1,"solar":0,"onshore":40.5,"offshore":0},
      {"country":"Sweden","year":2050,"lignite":0,"coal":0,"gas":0,"nuclear":3.4,"hydro":30,"solar":0,"onshore":61,"offshore":5.6},
      {"country":"Switzerland","year":2020,"lignite":43.9,"coal":0,"gas":0.8,"nuclear":9.6,"hydro":45.2,"solar":0.5,"onshore":0,"offshore":0},
      {"country":"Switzerland","year":2025,"lignite":42.9,"coal":0,"gas":0.6,"nuclear":5.4,"hydro":50.6,"solar":0.5,"onshore":0,"offshore":0},
      {"country":"Switzerland","year":2030,"lignite":11.8,"coal":0,"gas":15.6,"nuclear":0.8,"hydro":47.1,"solar":24.7,"onshore":0,"offshore":0},
      {"country":"Switzerland","year":2035,"lignite":0.8,"coal":0,"gas":22.3,"nuclear":1.1,"hydro":44.5,"solar":31.3,"onshore":0,"offshore":0},
      {"country":"Switzerland","year":2040,"lignite":0,"coal":0,"gas":13.6,"nuclear":6.2,"hydro":46.7,"solar":33.5,"onshore":0,"offshore":0},
      {"country":"Switzerland","year":2045,"lignite":0,"coal":0,"gas":9.6,"nuclear":5.9,"hydro":45.4,"solar":39.1,"onshore":0,"offshore":0},
      {"country":"Switzerland","year":2050,"lignite":0,"coal":0,"gas":4.6,"nuclear":6.1,"hydro":44.3,"solar":45,"onshore":0,"offshore":0},
      {"country":"United Kingdom","year":2020,"lignite":5.9,"coal":0,"gas":14.7,"nuclear":8.9,"hydro":1.1,"solar":2.1,"onshore":60.6,"offshore":6.7},
      {"country":"United Kingdom","year":2025,"lignite":2.7,"coal":0,"gas":8.8,"nuclear":5.6,"hydro":0.8,"solar":1.3,"onshore":76.3,"offshore":4.5},
      {"country":"United Kingdom","year":2030,"lignite":1.6,"coal":0,"gas":7.5,"nuclear":1.1,"hydro":0.6,"solar":0.6,"onshore":85.1,"offshore":3.5},
      {"country":"United Kingdom","year":2035,"lignite":0.8,"coal":0,"gas":5.4,"nuclear":1,"hydro":0.6,"solar":0.6,"onshore":88.6,"offshore":3},
      {"country":"United Kingdom","year":2040,"lignite":0.3,"coal":0,"gas":3.2,"nuclear":0.8,"hydro":0.5,"solar":0.8,"onshore":91.8,"offshore":2.6},
      {"country":"United Kingdom","year":2045,"lignite":0,"coal":0,"gas":1.9,"nuclear":0.8,"hydro":0.5,"solar":1.1,"onshore":95.1,"offshore":0.6},
      {"country":"United Kingdom","year":2050,"lignite":0,"coal":0,"gas":0.8,"nuclear":0.3,"hydro":0.6,"solar":1.6,"onshore":96.5,"offshore":0.2},
      {"country":"Europe","year":2020,"lignite":35.8,"coal":7.9,"gas":5.6,"nuclear":11.1,"hydro":13.9,"solar":2.9,"onshore":22,"offshore":0.8},
      {"country":"Europe","year":2025,"lignite":27,"coal":1.5,"gas":4.9,"nuclear":10.2,"hydro":13.5,"solar":4.9,"onshore":36.8,"offshore":1.2},
      {"country":"Europe","year":2030,"lignite":8.6,"coal":0.5,"gas":7.6,"nuclear":8.3,"hydro":12.6,"solar":11.9,"onshore":40.7,"offshore":9.8},
      {"country":"Europe","year":2035,"lignite":0.4,"coal":0.4,"gas":7.1,"nuclear":8.8,"hydro":11.7,"solar":12.6,"onshore":43.1,"offshore":15.9},
      {"country":"Europe","year":2040,"lignite":0,"coal":0,"gas":3,"nuclear":10,"hydro":10.7,"solar":13.3,"onshore":46.8,"offshore":16.2},
      {"country":"Europe","year":2045,"lignite":0,"coal":0,"gas":1.9,"nuclear":9.4,"hydro":10.1,"solar":13.3,"onshore":49.4,"offshore":15.9},
      {"country":"Europe","year":2050,"lignite":0,"coal":0,"gas":1,"nuclear":5.3,"hydro":9.3,"solar":16.2,"onshore":52.1,"offshore":16.1}
    ]
  },
  "data": {"name": "mix"},
  "transform": [
    {"fold": ["lignite", "coal", "gas", "nuclear", "hydro", "solar", "onshore", "offshore"], "as": ["key", "share"]},
    {"lookup": "key", "from": {"data": {"name": "techs"}, "key": "key", "fields": ["tech", "o"]}}
  ],
  "columns": 4,
  "spacing": {"row": 142, "column": 182},
  "bounds": "flush",
  "concat": [
    {"title": "Austria", "transform": [{"filter": {"field": "country", "equal": "Austria"}}], "mark": "area", "encoding": {"x": {"field": "year", "type": "quantitative", "scale": {"domain": [2020, 2050], "nice": false, "zero": false}, "axis": null}, "y": {"field": "share", "type": "quantitative", "stack": "normalize", "axis": null}, "color": {"field": "tech", "type": "nominal", "legend": null}, "order": {"field": "o", "type": "quantitative"}}},
    {"title": "Belgium", "transform": [{"filter": {"field": "country", "equal": "Belgium"}}], "mark": "area", "encoding": {"x": {"field": "year", "type": "quantitative", "scale": {"domain": [2020, 2050], "nice": false, "zero": false}, "axis": null}, "y": {"field": "share", "type": "quantitative", "stack": "normalize", "axis": null}, "color": {"field": "tech", "type": "nominal", "legend": null}, "order": {"field": "o", "type": "quantitative"}}},
    {"title": "Bosnia Herzegovina", "transform": [{"filter": {"field": "country", "equal": "Bosnia Herzegovina"}}], "mark": "area", "encoding": {"x": {"field": "year", "type": "quantitative", "scale": {"domain": [2020, 2050], "nice": false, "zero": false}, "axis": null}, "y": {"field": "share", "type": "quantitative", "stack": "normalize", "axis": null}, "color": {"field": "tech", "type": "nominal", "legend": null}, "order": {"field": "o", "type": "quantitative"}}},
    {"title": "Bulgaria", "transform": [{"filter": {"field": "country", "equal": "Bulgaria"}}], "mark": "area", "encoding": {"x": {"field": "year", "type": "quantitative", "scale": {"domain": [2020, 2050], "nice": false, "zero": false}, "axis": null}, "y": {"field": "share", "type": "quantitative", "stack": "normalize", "axis": null}, "color": {"field": "tech", "type": "nominal", "legend": null}, "order": {"field": "o", "type": "quantitative"}}},
    {"title": "Croatia", "transform": [{"filter": {"field": "country", "equal": "Croatia"}}], "mark": "area", "encoding": {"x": {"field": "year", "type": "quantitative", "scale": {"domain": [2020, 2050], "nice": false, "zero": false}, "axis": null}, "y": {"field": "share", "type": "quantitative", "stack": "normalize", "axis": null}, "color": {"field": "tech", "type": "nominal", "legend": null}, "order": {"field": "o", "type": "quantitative"}}},
    {"title": "Czech Republic", "transform": [{"filter": {"field": "country", "equal": "Czech Republic"}}], "mark": "area", "encoding": {"x": {"field": "year", "type": "quantitative", "scale": {"domain": [2020, 2050], "nice": false, "zero": false}, "axis": null}, "y": {"field": "share", "type": "quantitative", "stack": "normalize", "axis": null}, "color": {"field": "tech", "type": "nominal", "legend": null}, "order": {"field": "o", "type": "quantitative"}}},
    {"title": "Denmark", "transform": [{"filter": {"field": "country", "equal": "Denmark"}}], "mark": "area", "encoding": {"x": {"field": "year", "type": "quantitative", "scale": {"domain": [2020, 2050], "nice": false, "zero": false}, "axis": null}, "y": {"field": "share", "type": "quantitative", "stack": "normalize", "axis": null}, "color": {"field": "tech", "type": "nominal", "legend": null}, "order": {"field": "o", "type": "quantitative"}}},
    {"title": "Estonia", "transform": [{"filter": {"field": "country", "equal": "Estonia"}}], "mark": "area", "encoding": {"x": {"field": "year", "type": "quantitative", "scale": {"domain": [2020, 2050], "nice": false, "zero": false}, "axis": null}, "y": {"field": "share", "type": "quantitative", "stack": "normalize", "axis": null}, "color": {"field": "tech", "type": "nominal", "legend": null}, "order": {"field": "o", "type": "quantitative"}}},
    {"title": "Finland", "transform": [{"filter": {"field": "country", "equal": "Finland"}}], "mark": "area", "encoding": {"x": {"field": "year", "type": "quantitative", "scale": {"domain": [2020, 2050], "nice": false, "zero": false}, "axis": null}, "y": {"field": "share", "type": "quantitative", "stack": "normalize", "axis": null}, "color": {"field": "tech", "type": "nominal", "legend": null}, "order": {"field": "o", "type": "quantitative"}}},
    {"title": "France", "transform": [{"filter": {"field": "country", "equal": "France"}}], "mark": "area", "encoding": {"x": {"field": "year", "type": "quantitative", "scale": {"domain": [2020, 2050], "nice": false, "zero": false}, "axis": null}, "y": {"field": "share", "type": "quantitative", "stack": "normalize", "axis": null}, "color": {"field": "tech", "type": "nominal", "legend": null}, "order": {"field": "o", "type": "quantitative"}}},
    {"title": "Germany", "transform": [{"filter": {"field": "country", "equal": "Germany"}}], "mark": "area", "encoding": {"x": {"field": "year", "type": "quantitative", "scale": {"domain": [2020, 2050], "nice": false, "zero": false}, "axis": null}, "y": {"field": "share", "type": "quantitative", "stack": "normalize", "axis": null}, "color": {"field": "tech", "type": "nominal", "legend": null}, "order": {"field": "o", "type": "quantitative"}}},
    {"title": "Greece", "transform": [{"filter": {"field": "country", "equal": "Greece"}}], "mark": "area", "encoding": {"x": {"field": "year", "type": "quantitative", "scale": {"domain": [2020, 2050], "nice": false, "zero": false}, "axis": null}, "y": {"field": "share", "type": "quantitative", "stack": "normalize", "axis": null}, "color": {"field": "tech", "type": "nominal", "legend": null}, "order": {"field": "o", "type": "quantitative"}}},
    {"title": "Hungary", "transform": [{"filter": {"field": "country", "equal": "Hungary"}}], "mark": "area", "encoding": {"x": {"field": "year", "type": "quantitative", "scale": {"domain": [2020, 2050], "nice": false, "zero": false}, "axis": null}, "y": {"field": "share", "type": "quantitative", "stack": "normalize", "axis": null}, "color": {"field": "tech", "type": "nominal", "legend": null}, "order": {"field": "o", "type": "quantitative"}}},
    {"title": "Ireland", "transform": [{"filter": {"field": "country", "equal": "Ireland"}}], "mark": "area", "encoding": {"x": {"field": "year", "type": "quantitative", "scale": {"domain": [2020, 2050], "nice": false, "zero": false}, "axis": null}, "y": {"field": "share", "type": "quantitative", "stack": "normalize", "axis": null}, "color": {"field": "tech", "type": "nominal", "legend": null}, "order": {"field": "o", "type": "quantitative"}}},
    {"title": "Italy", "transform": [{"filter": {"field": "country", "equal": "Italy"}}], "mark": "area", "encoding": {"x": {"field": "year", "type": "quantitative", "scale": {"domain": [2020, 2050], "nice": false, "zero": false}, "axis": null}, "y": {"field": "share", "type": "quantitative", "stack": "normalize", "axis": null}, "color": {"field": "tech", "type": "nominal", "legend": null}, "order": {"field": "o", "type": "quantitative"}}},
    {"title": "Latvia", "transform": [{"filter": {"field": "country", "equal": "Latvia"}}], "mark": "area", "encoding": {"x": {"field": "year", "type": "quantitative", "scale": {"domain": [2020, 2050], "nice": false, "zero": false}, "axis": null}, "y": {"field": "share", "type": "quantitative", "stack": "normalize", "axis": null}, "color": {"field": "tech", "type": "nominal", "legend": null}, "order": {"field": "o", "type": "quantitative"}}},
    {"title": "Lithuania", "transform": [{"filter": {"field": "country", "equal": "Lithuania"}}], "mark": "area", "encoding": {"x": {"field": "year", "type": "quantitative", "scale": {"domain": [2020, 2050], "nice": false, "zero": false}, "axis": null}, "y": {"field": "share", "type": "quantitative", "stack": "normalize", "axis": null}, "color": {"field": "tech", "type": "nominal", "legend": null}, "order": {"field": "o", "type": "quantitative"}}},
    {"title": "Luxembourg", "transform": [{"filter": {"field": "country", "equal": "Luxembourg"}}], "mark": "area", "encoding": {"x": {"field": "year", "type": "quantitative", "scale": {"domain": [2020, 2050], "nice": false, "zero": false}, "axis": null}, "y": {"field": "share", "type": "quantitative", "stack": "normalize", "axis": null}, "color": {"field": "tech", "type": "nominal", "legend": null}, "order": {"field": "o", "type": "quantitative"}}},
    {"title": "Netherlands", "transform": [{"filter": {"field": "country", "equal": "Netherlands"}}], "mark": "area", "encoding": {"x": {"field": "year", "type": "quantitative", "scale": {"domain": [2020, 2050], "nice": false, "zero": false}, "axis": null}, "y": {"field": "share", "type": "quantitative", "stack": "normalize", "axis": null}, "color": {"field": "tech", "type": "nominal", "legend": null}, "order": {"field": "o", "type": "quantitative"}}},
    {"title": "Norway", "transform": [{"filter": {"field": "country", "equal": "Norway"}}], "mark": "area", "encoding": {"x": {"field": "year", "type": "quantitative", "scale": {"domain": [2020, 2050], "nice": false, "zero": false}, "axis": null}, "y": {"field": "share", "type": "quantitative", "stack": "normalize", "axis": null}, "color": {"field": "tech", "type": "nominal", "legend": null}, "order": {"field": "o", "type": "quantitative"}}},
    {"title": "Poland", "transform": [{"filter": {"field": "country", "equal": "Poland"}}], "mark": "area", "encoding": {"x": {"field": "year", "type": "quantitative", "scale": {"domain": [2020, 2050], "nice": false, "zero": false}, "axis": null}, "y": {"field": "share", "type": "quantitative", "stack": "normalize", "axis": null}, "color": {"field": "tech", "type": "nominal", "legend": null}, "order": {"field": "o", "type": "quantitative"}}},
    {"title": "Portugal", "transform": [{"filter": {"field": "country", "equal": "Portugal"}}], "mark": "area", "encoding": {"x": {"field": "year", "type": "quantitative", "scale": {"domain": [2020, 2050], "nice": false, "zero": false}, "axis": null}, "y": {"field": "share", "type": "quantitative", "stack": "normalize", "axis": null}, "color": {"field": "tech", "type": "nominal", "legend": null}, "order": {"field": "o", "type": "quantitative"}}},
    {"title": "Romania", "transform": [{"filter": {"field": "country", "equal": "Romania"}}], "mark": "area", "encoding": {"x": {"field": "year", "type": "quantitative", "scale": {"domain": [2020, 2050], "nice": false, "zero": false}, "axis": null}, "y": {"field": "share", "type": "quantitative", "stack": "normalize", "axis": null}, "color": {"field": "tech", "type": "nominal", "legend": null}, "order": {"field": "o", "type": "quantitative"}}},
    {"title": "Serbia", "transform": [{"filter": {"field": "country", "equal": "Serbia"}}], "mark": "area", "encoding": {"x": {"field": "year", "type": "quantitative", "scale": {"domain": [2020, 2050], "nice": false, "zero": false}, "axis": null}, "y": {"field": "share", "type": "quantitative", "stack": "normalize", "axis": null}, "color": {"field": "tech", "type": "nominal", "legend": null}, "order": {"field": "o", "type": "quantitative"}}},
    {"title": "Slovakia", "transform": [{"filter": {"field": "country", "equal": "Slovakia"}}], "mark": "area", "encoding": {"x": {"field": "year", "type": "quantitative", "scale": {"domain": [2020, 2050], "nice": false, "zero": false}, "axis": null}, "y": {"field": "share", "type": "quantitative", "stack": "normalize", "axis": null}, "color": {"field": "tech", "type": "nominal", "legend": null}, "order": {"field": "o", "type": "quantitative"}}},
    {"title": "Slovenia", "transform": [{"filter": {"field": "country", "equal": "Slovenia"}}], "mark": "area", "encoding": {"x": {"field": "year", "type": "quantitative", "scale": {"domain": [2020, 2050], "nice": false, "zero": false}, "axis": null}, "y": {"field": "share", "type": "quantitative", "stack": "normalize", "axis": null}, "color": {"field": "tech", "type": "nominal", "legend": null}, "order": {"field": "o", "type": "quantitative"}}},
    {"title": "Spain", "transform": [{"filter": {"field": "country", "equal": "Spain"}}], "mark": "area", "encoding": {"x": {"field": "year", "type": "quantitative", "scale": {"domain": [2020, 2050], "nice": false, "zero": false}, "axis": null}, "y": {"field": "share", "type": "quantitative", "stack": "normalize", "axis": null}, "color": {"field": "tech", "type": "nominal", "legend": null}, "order": {"field": "o", "type": "quantitative"}}},
    {"title": "Sweden", "transform": [{"filter": {"field": "country", "equal": "Sweden"}}], "mark": "area", "encoding": {"x": {"field": "year", "type": "quantitative", "scale": {"domain": [2020, 2050], "nice": false, "zero": false}, "axis": null}, "y": {"field": "share", "type": "quantitative", "stack": "normalize", "axis": null}, "color": {"field": "tech", "type": "nominal", "legend": null}, "order": {"field": "o", "type": "quantitative"}}},
    {"title": "Switzerland", "transform": [{"filter": {"field": "country", "equal": "Switzerland"}}], "mark": "area", "encoding": {"x": {"field": "year", "type": "quantitative", "scale": {"domain": [2020, 2050], "nice": false, "zero": false}, "axis": null}, "y": {"field": "share", "type": "quantitative", "stack": "normalize", "axis": null}, "color": {"field": "tech", "type": "nominal", "legend": null}, "order": {"field": "o", "type": "quantitative"}}},
    {"title": "United Kingdom", "transform": [{"filter": {"field": "country", "equal": "United Kingdom"}}], "mark": "area", "encoding": {"x": {"field": "year", "type": "quantitative", "scale": {"domain": [2020, 2050], "nice": false, "zero": false}, "axis": null}, "y": {"field": "share", "type": "quantitative", "stack": "normalize", "axis": null}, "color": {"field": "tech", "type": "nominal", "legend": null}, "order": {"field": "o", "type": "quantitative"}}},
    {
      "data": {"name": "techs"},
      "width": 912,
      "height": 726,
      "view": {"stroke": null},
      "encoding": {
        "y": {"field": "tech", "type": "nominal", "sort": ["offshore wind", "onshore wind", "solar PV", "hydro", "nuclear", "gas", "coal", "lignite"], "scale": {"type": "point", "range": [-24, 727], "padding": 0}, "axis": null}
      },
      "layer": [
        {"mark": {"type": "point", "shape": "M-1,-0.368H1V0.368H-1Z", "size": 24025, "filled": true, "opacity": 1}, "encoding": {"x": {"datum": 0.185, "type": "quantitative", "scale": {"domain": [0, 1]}, "axis": null}, "color": {"field": "tech", "type": "nominal", "legend": null}}},
        {"mark": {"type": "text", "align": "left", "baseline": "middle", "fontSize": 74, "color": "#262626"}, "encoding": {"x": {"datum": 0.335, "type": "quantitative"}, "text": {"field": "tech"}}}
      ]
    },
    {
      "title": {"text": "Europe-aggregated", "fontSize": 83, "offset": -89},
      "transform": [{"filter": {"field": "country", "equal": "Europe"}}],
      "mark": "area",
      "encoding": {
        "x": {"field": "year", "type": "quantitative", "scale": {"domain": [2020, 2050], "nice": false, "zero": false}, "axis": {"values": [2020, 2030, 2040, 2050], "format": "d", "title": null, "labelFlush": false, "labelOverlap": false}},
        "y": {"field": "share", "type": "quantitative", "stack": "normalize", "axis": {"title": "Electricity production (%)", "titleFontSize": 83, "values": [0, 0.2, 0.4, 0.6, 0.8, 1], "labelExpr": "format(datum.value * 100, 'd')", "titlePadding": 32, "labelOverlap": false, "labelFlush": false}},
        "color": {"field": "tech", "type": "nominal", "legend": null},
        "order": {"field": "o", "type": "quantitative"}
      }
    }
  ],
  "config": {
    "font": "Liberation Sans",
    "view": {"stroke": "#262626", "strokeWidth": 5, "continuousWidth": 912, "continuousHeight": 726},
    "title": {"fontSize": 66, "fontWeight": "normal", "color": "#262626", "baseline": "alphabetic", "offset": 2},
    "range": {"category": ["#555555", "#aaaaaa", "#00ffff", "#000000", "#b22222", "#556b2f", "#2e8b57", "#9acd32"]},
    "axis": {"labelFontSize": 77, "labelColor": "#262626", "titleFontSize": 77, "titleFontWeight": "normal", "titleColor": "#262626", "ticks": false, "domain": false, "grid": false, "labelPadding": 19}
  }
}
